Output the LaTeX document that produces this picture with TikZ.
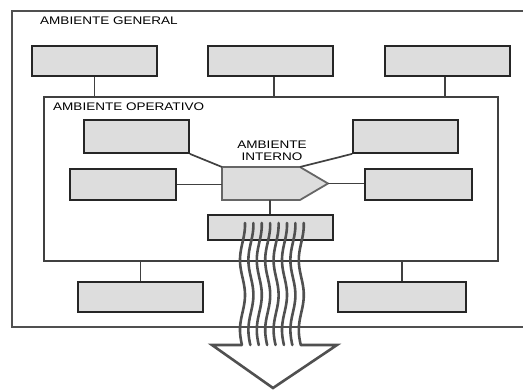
\documentclass[tikz,border=0pt]{standalone}
\usepackage{fontspec}
\newfontfamily\envfont[FakeStretch=1.23]{Liberation Sans}
\usetikzlibrary{positioning}
\definecolor{boxgray}{RGB}{221,221,221}
\definecolor{linegray}{RGB}{80,80,80}

\begin{document}
\begin{tikzpicture}[x=1pt,y=-1pt,
	env fill/.style={draw=black!85, line width=1.8pt, fill=boxgray},
	env box/.style={env fill, rectangle, inner sep=0pt, minimum width=125, minimum height=30},
	frame/.style={rectangle, draw=linegray, line width=2pt, inner sep=0pt},
	env label/.style={font=\envfont\fontsize{11}{12}\selectfont, inner sep=0pt},
	link/.style={draw=black!75, line width=1.7pt},
	wave/.style={draw=linegray, line width=2.6pt, line cap=round}]
	
	\useasboundingbox (0,0) rectangle (523,390);
	\clip (0,0) rectangle (523,390);
	
	\node[frame, minimum width=525, minimum height=316] (gen) at (274.5,169) {};
	\node[env label, anchor=west] (genlbl) at (40,21) {AMBIENTE GENERAL};
	
	\node[env box] (g1) at (94.5,61) {};
	\node[env box] (g2) at (270.5,61) {};
	\node[env box] (g3) at (447.5,61) {};
	
	\node[frame, draw=black!75, line width=1.8pt, minimum width=454, minimum height=164] (op) at (271,179) {};
	\node[env label, anchor=west] (oplbl) at (53,107) {AMBIENTE OPERATIVO};
	
	\node[env box, minimum width=105, minimum height=33] (o1) at (136.5,136.5) {};
	\node[env box, minimum width=105, minimum height=33] (o2) at (405.5,136.5) {};
	\node[env box, minimum width=106, minimum height=31] (o3) at (123,184.5) {};
	\node[env box, minimum width=107, minimum height=31] (o4) at (418.5,184.5) {};
	\node[env box, minimum height=25] (b0) at (270.5,227.5) {};
	
	% ambiente interno
	\draw[env fill, draw=black!60] (222,167) coordinate (inNW) -- (300,167) coordinate (inNE)
		-- (328,183.5) coordinate (inE) -- (300,200) -- (222,200) -- cycle;
	\coordinate (inW) at (222,184.5);
	\coordinate (inS) at (270,200);
	\node[env label, align=center] (inlbl) at (272,151) {AMBIENTE\\INTERNO};
	
	\node[env box] (bl) at (140.5,297) {};
	\node[env box, minimum width=128] (br) at (402,297) {};
	
	\path[link]
	(g1.south) edge (g1.south |- op.north)
	([xshift=3.5]g2.south) edge ([xshift=3.5]g2.south |- op.north)
	([xshift=-2.5]g3.south) edge ([xshift=-2.5]g3.south |- op.north)
	(o1.south east) edge (inNW)
	(o2.south west) edge (inNE)
	(o3.east) edge (inW)
	(inE) edge (inE -| o4.west)
	(inS) edge (inS |- b0.north)
	(bl.north |- op.south) edge (bl.north)
	(br.north |- op.south) edge (br.north);
	
	% salida
	\foreach \i in {0,...,7}
	\draw[wave] plot[variable=\t, domain=223:345, samples=60, smooth]
		({242.5+8.4*\i-2.5*cos(5.142857*(\t-260))}, \t);
	\coordinate (wl) at (241.9,345);
	\coordinate (wr) at (300.7,345);
	\coordinate (al) at (212,345);
	\coordinate (ar) at (337,345);
	\coordinate (tip) at (273,388);
	\draw[wave, line cap=butt, line join=miter] (wl) -- (al) -- (tip) -- (ar) -- (wr);
	
\end{tikzpicture}
\end{document}
